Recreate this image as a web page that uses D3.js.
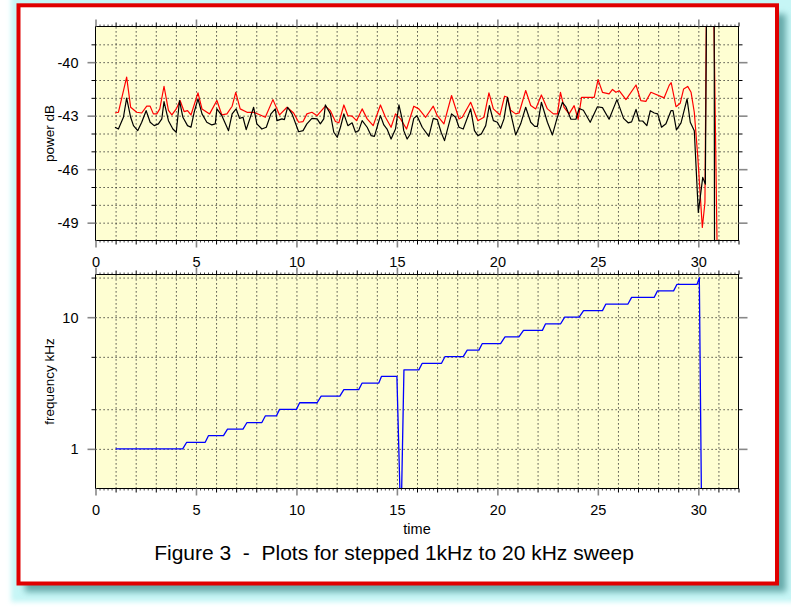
<!DOCTYPE html>
<html><head><meta charset="utf-8">
<script src="https://cdn.jsdelivr.net/npm/d3@7/dist/d3.min.js"></script>
<style>
body{margin:0;background:#fff}
svg{display:block}
text{font-family:"Liberation Sans",Arial,Helvetica,sans-serif;fill:#000;white-space:pre}
</style>
</head><body>
<svg id="c" width="791" height="607"></svg>
<script>
// ---------- data ----------
const timeTicks = [0, 5, 10, 15, 20, 25, 30];
const powerTicks = [-40, -43, -46, -49];
const freqTicks = [1, 10];
const freqGridValues = [1, 2, 5, 10, 20];

const redT = [0.97,1.14,1.55,1.75,2.05,2.3,2.55,2.72,2.88,3.05,3.2,3.41,3.63,3.8,4.02,4.21,4.41,4.58,4.75,5.1,5.3,5.68,6.04,6.29,6.54,6.8,6.98,7.2,7.54,7.87,8.2,8.45,8.83,9.16,9.53,9.86,10.11,10.33,10.52,10.77,11.03,11.44,11.69,11.94,12.11,12.36,12.56,12.77,12.99,13.27,13.52,13.82,14.18,14.43,14.71,14.93,15.18,15.48,15.84,16.09,16.43,16.81,17.01,17.34,17.72,18.09,18.25,18.67,19.03,19.33,19.58,19.8,20.13,20.36,20.5,20.66,20.91,21.08,21.41,21.66,21.91,22.19,22.49,22.79,22.99,23.14,23.32,23.57,23.82,24.02,24.19,24.82,25.01,25.23,25.56,25.73,25.9,26.06,26.4,26.9,27.14,27.39,27.64,28.3,28.55,28.65,28.89,29.1,29.27,29.47,29.64,29.8,29.97,30.2,30.33,30.45,30.68,30.98];
const redDb = [-42.85,-42.81,-40.84,-42.53,-42.81,-42.85,-42.47,-42.47,-42.9,-42.9,-42.62,-41.35,-42.7,-42.96,-42.62,-42.15,-42.77,-42.72,-42.96,-41.72,-42.62,-42.9,-42.15,-42.96,-42.9,-42.47,-41.69,-42.62,-42.81,-42.81,-42.96,-43.09,-42.1,-42.96,-42.53,-42.85,-43.37,-43.33,-42.9,-42.81,-43.0,-42.47,-42.72,-43.33,-43.4,-42.4,-43.0,-43.03,-43.28,-42.62,-43.18,-43.56,-42.4,-43.09,-43.65,-42.9,-43.18,-43.75,-42.47,-42.62,-43.09,-42.47,-43.0,-43.46,-41.87,-43.18,-43.09,-42.25,-43.28,-43.09,-41.72,-42.62,-42.96,-41.91,-41.97,-42.7,-42.9,-42.85,-41.59,-42.43,-42.62,-41.84,-42.62,-42.9,-42.9,-41.69,-42.53,-42.9,-42.44,-43.2,-41.97,-41.97,-40.98,-41.69,-41.78,-41.53,-41.69,-41.6,-42.1,-41.28,-42.16,-42.2,-41.69,-42.0,-41.3,-41.15,-42.5,-42.3,-41.5,-41.36,-41.69,-42.81,-45.25,-49.27,-47.87,-30,-30,-54];

const blackT = [0.97,1.14,1.39,1.55,1.75,1.89,2.1,2.3,2.52,2.72,2.92,3.13,3.3,3.41,3.63,3.85,4.02,4.18,4.35,4.58,4.75,4.91,5.1,5.3,5.54,5.79,5.96,6.04,6.29,6.62,6.8,7.0,7.17,7.34,7.5,7.87,8.03,8.28,8.5,8.73,8.95,9.03,9.28,9.4,9.56,9.78,10.11,10.33,10.52,10.77,11.03,11.19,11.36,11.44,11.69,11.86,12.03,12.19,12.36,12.56,12.77,12.94,13.1,13.27,13.52,13.72,13.88,14.18,14.35,14.51,14.71,14.93,15.1,15.26,15.34,15.51,15.67,15.84,16.0,16.26,16.59,16.81,17.01,17.2,17.37,17.72,17.92,18.09,18.3,18.67,18.86,19.03,19.2,19.42,19.6,19.8,20.0,20.16,20.33,20.5,20.69,20.91,21.16,21.41,21.66,21.86,21.99,22.19,22.49,22.74,22.96,23.24,23.41,23.66,23.91,24.07,24.28,24.62,24.98,25.23,25.56,25.95,26.28,26.51,26.68,26.9,27.06,27.23,27.44,27.61,27.81,27.98,28.17,28.39,28.64,28.74,28.91,29.14,29.44,29.6,29.8,30.0,30.22,30.35,30.45,30.78,30.82];
const blackDb = [-43.65,-43.75,-43.09,-42.02,-43.09,-43.56,-43.84,-43.37,-42.72,-43.37,-43.56,-43.46,-43.18,-42.21,-43.28,-43.75,-43.93,-42.15,-43.09,-43.56,-43.65,-42.81,-42.06,-42.9,-43.37,-43.52,-43.46,-42.62,-43.0,-43.84,-42.9,-42.62,-43.15,-43.09,-43.78,-42.53,-43.46,-43.75,-43.65,-42.9,-42.62,-43.28,-43.18,-43.22,-42.53,-42.9,-43.9,-43.84,-43.46,-43.15,-43.18,-43.46,-43.18,-42.4,-42.9,-43.93,-44.21,-43.65,-42.9,-43.56,-43.4,-43.93,-43.84,-43.28,-43.65,-44.12,-44.16,-43.0,-43.52,-43.75,-44.31,-43.75,-42.4,-43.18,-43.84,-44.31,-44.03,-43.15,-43.0,-43.65,-44.16,-43.15,-43.22,-43.93,-44.4,-42.9,-43.09,-43.65,-43.75,-42.62,-43.84,-44.12,-44.03,-43.56,-42.43,-43.28,-43.37,-43.71,-43.18,-41.97,-43.0,-44.08,-43.46,-42.53,-43.37,-43.6,-43.6,-42.25,-43.37,-44.08,-43.18,-42.25,-42.5,-43.2,-43.2,-42.6,-42.7,-43.37,-42.5,-42.55,-43.2,-42.1,-43.15,-43.4,-43.35,-42.65,-43.3,-43.3,-43.56,-42.72,-42.85,-42.9,-43.65,-43.45,-42.72,-42.72,-43.8,-43.4,-42.06,-43.37,-43.84,-48.43,-46.46,-46.84,-30,-30,-60];

const freqT = [1.0,4.34,4.54,5.46,5.62,6.37,6.57,7.34,7.54,8.28,8.45,9.0,9.16,10.0,10.16,11.03,11.23,12.16,12.36,13.1,13.27,14.1,14.23,15.0,15.2,15.35,16.09,16.26,17.22,17.39,18.3,18.5,19.08,19.25,20.16,20.38,21.07,21.3,22.24,22.4,23.15,23.35,24.07,24.29,25.23,25.4,26.5,26.68,27.8,27.97,28.77,28.94,29.94,30.05,30.17];
const freqKHz = [1.0,1.0,1.122,1.122,1.259,1.259,1.413,1.413,1.585,1.585,1.778,1.778,1.995,1.995,2.239,2.239,2.512,2.512,2.818,2.818,3.162,3.162,3.548,3.548,0.25,3.981,3.981,4.467,4.467,5.012,5.012,5.623,5.623,6.31,6.31,7.079,7.079,7.943,7.943,8.913,8.913,10.0,10.0,11.22,11.22,12.59,12.59,14.13,14.13,15.85,15.85,17.78,17.78,19.95,0.25];

const caption = "Figure 3  -  Plots for stepped 1kHz to 20 kHz sweep";

// ---------- layout ----------
const svg = d3.select("#c");
const defs = svg.append("defs");
defs.append("filter").attr("id","blur2").attr("x","-5%").attr("y","-5%").attr("width","110%").attr("height","110%")
  .append("feGaussianBlur").attr("stdDeviation",2.5);
defs.append("filter").attr("id","blur3").attr("x","-5%").attr("y","-5%").attr("width","110%").attr("height","110%")
  .append("feGaussianBlur").attr("stdDeviation",3);

// glow + shadow + frame
svg.append("rect").attr("x",11).attr("y",-12).attr("width",800).attr("height",614)
  .attr("fill","#c6f6f6").attr("filter","url(#blur2)");
svg.append("rect").attr("x",25).attr("y",14).attr("width",761).attr("height",578)
  .attr("fill","#68aaaa").attr("filter","url(#blur3)");
svg.append("rect").attr("x",18.5).attr("y",5.3).attr("width",758.5).attr("height",578.2)
  .attr("fill","#fff").attr("stroke","#e00000").attr("stroke-width",4);

const X0 = 95.5, X1 = 738.5;
const x = d3.scaleLinear().domain([0, 32]).range([X0, X1]);
const yP = d3.scaleLinear().domain([-38, -50]).range([26.5, 240.5]);
const yF = d3.scaleLog().domain([0.5, 21.1]).range([488.5, 274.5]);
const fmt = d => String(d);

const minorX = d3.range(0, 33).filter(v => !timeTicks.includes(v));
const tinyX = d3.range(0, 160.5).map(i => +(i * 0.2).toFixed(1)).filter(v => Math.abs(v - Math.round(v)) > 1e-6);

function styleTicks(g, color, width) {
  g.select(".domain").remove();
  g.selectAll(".tick line").attr("stroke", color).attr("stroke-width", width);
}

function panel(id, y, yGrid, yMajor, yMinor) {
  const top = Math.min(...y.range()), bot = Math.max(...y.range());
  const g = svg.append("g");
  g.append("rect").attr("x", X0).attr("y", top).attr("width", X1 - X0).attr("height", bot - top).attr("fill", "#fefed2");

  // grid
  const gx = g.append("g").attr("transform", `translate(0,${bot})`)
    .call(d3.axisBottom(x).tickValues(d3.range(1, 32)).tickSize(-(bot - top)).tickFormat(""));
  gx.select(".domain").remove();
  gx.selectAll(".tick line").attr("stroke", "#222").attr("stroke-dasharray", "1.2,2.8").attr("stroke-width", 1);
  const gy = g.append("g").attr("transform", `translate(${X0},0)`)
    .call(d3.axisLeft(y).tickValues(yGrid).tickSize(-(X1 - X0)).tickFormat(""));
  gy.select(".domain").remove();
  gy.selectAll(".tick line").attr("stroke", "#222").attr("stroke-dasharray", "1.2,2.8").attr("stroke-width", 1);

  defs.append("clipPath").attr("id", id).append("rect")
    .attr("x", X0).attr("y", top).attr("width", X1 - X0).attr("height", bot - top);
  const plot = g.append("g").attr("clip-path", `url(#${id})`);

  // frame
  g.append("rect").attr("x", X0).attr("y", top).attr("width", X1 - X0).attr("height", bot - top)
    .attr("fill", "none").attr("stroke", "#000").attr("stroke-width", 1);

  // x ticks bottom/top
  [[d3.axisBottom, bot], [d3.axisTop, top]].forEach(([ax, yy]) => {
    styleTicks(g.append("g").attr("transform", `translate(0,${yy})`).call(ax(x).tickValues(tinyX).tickSize(2).tickFormat("")), "#000", 0.7);
    styleTicks(g.append("g").attr("transform", `translate(0,${yy})`).call(ax(x).tickValues(minorX).tickSize(4).tickFormat("")), "#000", 1);
    const gm = g.append("g").attr("transform", `translate(0,${yy})`).call(ax(x).tickValues(timeTicks).tickSize(7).tickFormat(ax === d3.axisBottom ? fmt : ""));
    styleTicks(gm, "#888", 1.6);
    gm.selectAll("text").attr("y", 26).attr("dy", 0).style("font-size", "14.5px").attr("fill", "#000");
  });
  // y ticks left/right
  [[d3.axisLeft, X0, 8], [d3.axisRight, X1, 9]].forEach(([ax, xx, len]) => {
    styleTicks(g.append("g").attr("transform", `translate(${xx},0)`).call(ax(y).tickValues(yMinor).tickSize(4).tickFormat("")), "#000", 1);
    const gm = g.append("g").attr("transform", `translate(${xx},0)`).call(ax(y).tickValues(yMajor).tickSize(len).tickFormat(ax === d3.axisLeft ? fmt : ""));
    styleTicks(gm, "#888", 1.6);
    gm.selectAll("text").attr("x", -17).attr("dy", "0.35em").style("font-size", "14.5px").attr("fill", "#000");
  });
  return plot;
}

// top panel
const powerGrid = d3.range(-39, -49.5, -1);
const powerMinor = powerGrid.filter(v => !powerTicks.includes(v));
const p1 = panel("clipTop", yP, powerGrid, powerTicks, powerMinor);

const lineP = d3.line().x(d => x(d[0])).y(d => yP(d[1]));
p1.append("path").datum(d3.zip(redT, redDb)).attr("d", lineP)
  .attr("fill", "none").attr("stroke", "#ff0000").attr("stroke-width", 1.2).attr("stroke-linejoin", "round");
p1.append("path").datum(d3.zip(blackT, blackDb)).attr("d", lineP)
  .attr("fill", "none").attr("stroke", "#000").attr("stroke-width", 1.2).attr("stroke-linejoin", "round");

// bottom panel
const freqMinor = freqGridValues.filter(v => !freqTicks.includes(v));
const p2 = panel("clipBot", yF, freqGridValues, freqTicks, freqMinor);
const lineF = d3.line().x(d => x(d[0])).y(d => yF(d[1]));
p2.append("path").datum(d3.zip(freqT, freqKHz)).attr("d", lineF)
  .attr("fill", "none").attr("stroke", "#0000ff").attr("stroke-width", 1.3).attr("stroke-linejoin", "round");

// axis titles
svg.append("text").attr("transform", `translate(53.5,${(26.5 + 240.5) / 2}) rotate(-90)`)
  .attr("text-anchor", "middle").style("font-size", "13.5px").text("power dB");
svg.append("text").attr("transform", `translate(53.5,${(274.5 + 488.5) / 2}) rotate(-90)`)
  .attr("text-anchor", "middle").style("font-size", "13.5px").text("frequency kHz");
svg.append("text").attr("x", (X0 + X1) / 2).attr("y", 534).attr("text-anchor", "middle")
  .style("font-size", "14.5px").text("time");
svg.append("text").attr("x", 394).attr("y", 559.5).attr("text-anchor", "middle")
  .style("font-size", "21px").text(caption);
</script>
</body></html>
